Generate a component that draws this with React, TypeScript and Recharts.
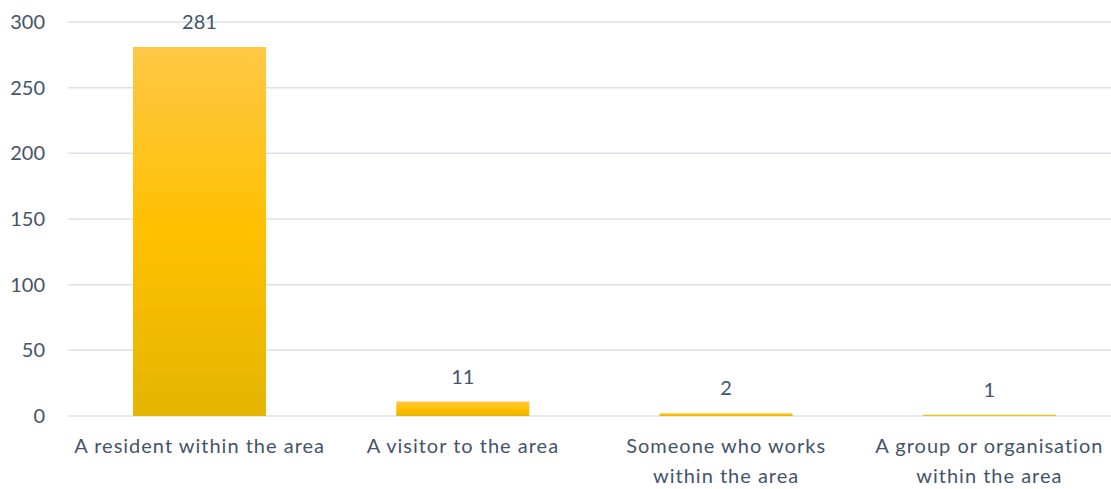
import React from 'react';
import { BarChart, Bar, XAxis, YAxis, CartesianGrid, LabelList } from 'recharts';

const categories = [
  'A resident within the area',
  'A visitor to the area',
  'Someone who works within the area',
  'A group or organisation within the area',
];
const counts = [281, 11, 2, 1];
const yTicks = [0, 50, 100, 150, 200, 250, 300];

const data = categories.map((name, i) => ({ name, value: counts[i] }));

const FONT = 'Lato, "Open Sans", sans-serif';
const TEXT = '#44546A';
const CAT_SPACING = 1;
const MAX_W = 258;

let ctx: CanvasRenderingContext2D | null = null;
const measure = (s: string) => {
  if (!ctx) {
    const c = document.createElement('canvas');
    ctx = c.getContext('2d');
  }
  if (!ctx) return s.length * 10;
  ctx.font = `20px Lato`;
  return ctx.measureText(s).width + CAT_SPACING * s.length;
};

const wrap = (s: string) => {
  const words = s.split(' ');
  const lines: string[] = [];
  let cur = '';
  words.forEach((w) => {
    const test = cur ? cur + ' ' + w : w;
    if (cur && measure(test) > MAX_W) {
      lines.push(cur);
      cur = w;
    } else {
      cur = test;
    }
  });
  if (cur) lines.push(cur);
  return lines;
};

const CatTick = (props: any) => {
  const { x, y, payload } = props;
  const lines = wrap(String(payload.value));
  return (
    <text
      x={x}
      y={y}
      textAnchor="middle"
      fill={TEXT}
      fontSize={20}
      fontFamily={FONT}
      letterSpacing={CAT_SPACING}
    >
      {lines.map((l, i) => (
        <tspan key={i} x={x} dy={i === 0 ? 14 : 30}>
          {l}
        </tspan>
      ))}
    </text>
  );
};

export default function App() {
  return (
    <div style={{ position: 'absolute', left: 0, top: 0, width: 1111, height: 489, overflow: 'hidden', background: '#fff' }}>
      <BarChart
        width={1121}
        height={489}
        data={data}
        margin={{ top: 22, right: 0, bottom: 0, left: 0 }}
        barCategoryGap="24.7%"
      >
        <defs>
          <linearGradient id="barGrad" x1="0" y1="0" x2="0" y2="1">
            <stop offset="0%" stopColor="#FFC746" />
            <stop offset="50%" stopColor="#FFC000" />
            <stop offset="100%" stopColor="#E5B500" />
          </linearGradient>
        </defs>
        <CartesianGrid vertical={false} stroke="#DDE1EA" strokeWidth={1.5} />
        <XAxis
          dataKey="name"
          axisLine={false}
          tickLine={false}
          tickSize={0}
          tickMargin={23}
          height={73}
          interval={0}
          tick={<CatTick />}
        />
        <YAxis
          domain={[0, 300]}
          ticks={yTicks}
          axisLine={false}
          tickLine={false}
          tickSize={0}
          tickMargin={23}
          width={68}
          tick={{ fill: TEXT, fontSize: 20, fontFamily: FONT }}
        />
        <Bar dataKey="value" fill="url(#barGrad)" isAnimationActive={false}>
          <LabelList dataKey="value" position="top" offset={18} fill={TEXT} fontSize={20} fontFamily={FONT} />
        </Bar>
      </BarChart>
    </div>
  );
}
